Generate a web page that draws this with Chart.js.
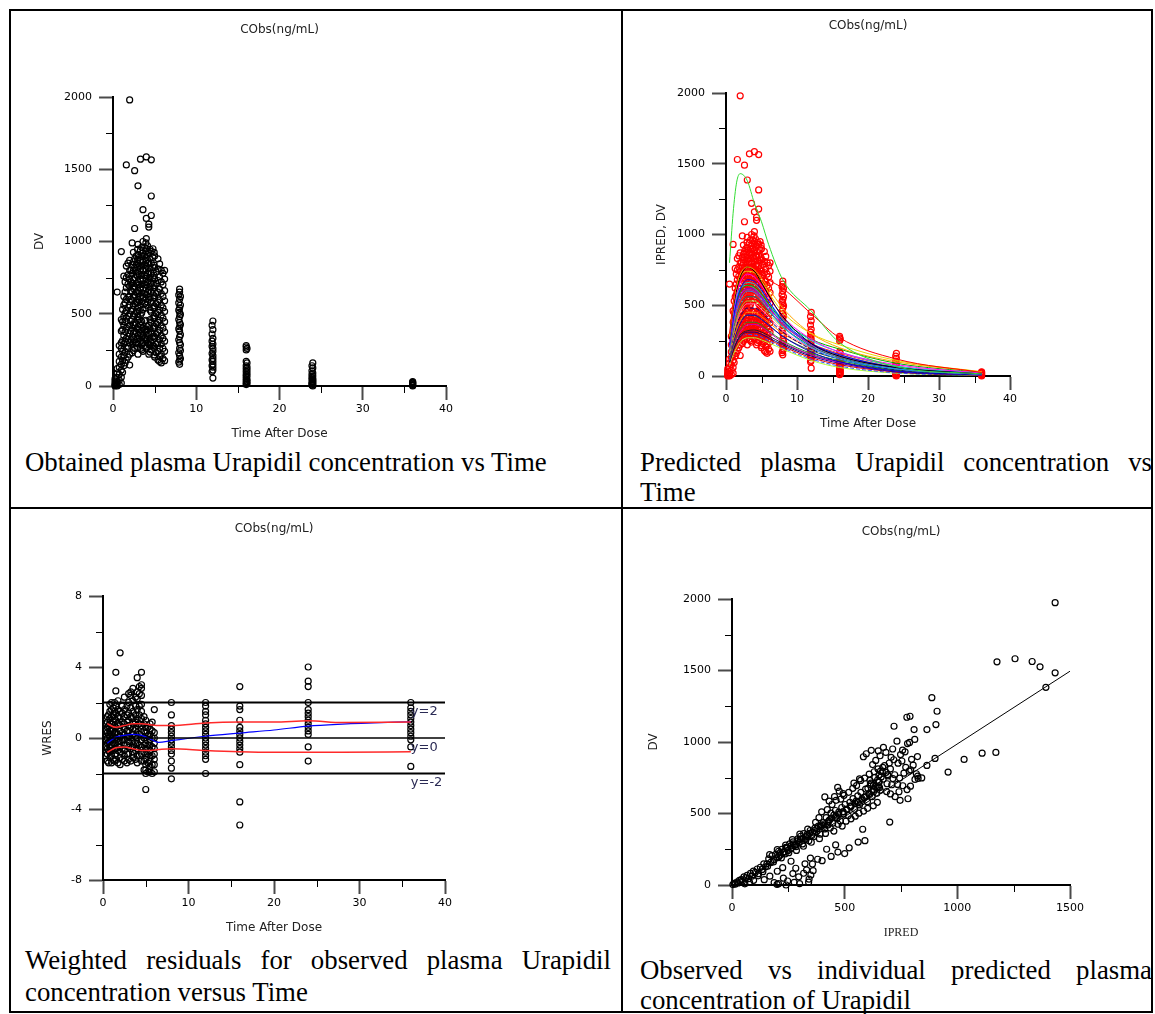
<!DOCTYPE html>
<html>
<head>
<meta charset="utf-8">
<script src="https://cdn.jsdelivr.net/npm/chart.js@4.4.1/dist/chart.umd.min.js"></script>
<style>
  html, body { margin: 0; padding: 0; background: #fff; }
  #page { position: relative; width: 1155px; height: 1014px; overflow: hidden; background: #fff; }
  .rule { position: absolute; background: #000; }
  canvas { position: absolute; }
  .cap { position: absolute; font-family: 'Liberation Serif', 'Times New Roman', serif; font-size: 26.8px; line-height: 31px; color: #000; white-space: nowrap; }
  .cap.just { white-space: normal; text-align: justify; text-align-last: justify; }
</style>
</head>
<body>
<div id="page">
  <div class="rule" style="left:9px;top:9px;width:1144px;height:2px"></div>
  <div class="rule" style="left:9px;top:507px;width:1144px;height:2px"></div>
  <div class="rule" style="left:9px;top:1011px;width:1144px;height:2px"></div>
  <div class="rule" style="left:9px;top:9px;width:2px;height:1004px"></div>
  <div class="rule" style="left:621px;top:9px;width:2px;height:1004px"></div>
  <div class="rule" style="left:1151px;top:9px;width:2px;height:1004px"></div>

  <div class="cap" style="left:25px;top:447px">Obtained plasma Urapidil concentration vs Time</div>
  <div class="cap just" style="left:640px;top:447px;width:512px">Predicted plasma Urapidil concentration vs</div>
  <div class="cap" style="left:640px;top:477px">Time</div>
  <div class="cap just" style="left:25px;top:945px;width:586px">Weighted residuals for observed plasma Urapidil</div>
  <div class="cap" style="left:25px;top:977px">concentration versus Time</div>
  <div class="cap just" style="left:640px;top:955px;width:512px">Observed vs individual predicted plasma</div>
  <div class="cap" style="left:640px;top:985px">concentration of Urapidil</div>
</div>

<script>
'use strict';

// ── Data ──────────────────────────────────────────────────────────────────────

const SANS = "'DejaVu Sans', Verdana, sans-serif";

const timeTicks = [0, 10, 20, 30, 40];
const timeMinor = [5, 15, 25, 35];
const concTicks = [0, 500, 1000, 1500, 2000];
const concMinor = [250, 750, 1250, 1750];
const wresTicks = [-8, -4, 0, 4, 8];
const wresMinor = [-6, -2, 2, 6];
const ipredTicks = [0, 500, 1000, 1500];
const ipredMinor = [250, 750, 1250];

// observed concentrations (DV), grouped by sampling time
const sampleTimes = [0.25, 0.5, 0.75, 1, 1.15, 1.3, 1.45, 1.6, 1.8, 2, 2.15, 2.3, 2.45, 2.6, 2.8, 2.95,
                     3, 3.15, 3.3, 3.45, 3.6, 3.8, 3.95, 4, 4.15, 4.3, 4.45, 4.6, 4.8, 4.95, 5, 5.2,
                     5.4, 5.6, 5.8, 6, 6.2, 7.9, 8, 8.1, 11.9, 12, 16, 16.1, 23.9, 24, 36];
const dvByTime = [
  [0, 5, 10, 20, 35, 50],                                              // 0.25
  [0, 15, 30, 60, 90, 120, 650],                                       // 0.5
  [10, 40, 80, 130, 170, 220, 280],                                    // 0.75
  [20, 60, 110, 150, 200, 260, 300, 380, 460, 930],                    // 1
  [95, 175, 240, 315, 390, 445, 530],                                  // 1.15
  [140, 210, 290, 350, 420, 480, 560, 620, 760],                       // 1.3
  [160, 235, 305, 375, 445, 505, 575, 650, 720],                       // 1.45
  [180, 260, 330, 400, 470, 520, 600, 680, 750, 830, 1530],            // 1.6
  [200, 275, 345, 410, 485, 545, 615, 705, 770, 850],                  // 1.8
  [145, 220, 300, 360, 420, 500, 560, 620, 690, 740, 800, 870, 1980],  // 2
  [320, 380, 450, 520, 600, 660, 720, 800],                            // 2.15
  [230, 290, 340, 400, 460, 530, 590, 650, 710, 780, 840, 990],        // 2.3
  [245, 305, 365, 425, 485, 555, 615, 675, 735, 800, 860, 925],        // 2.45
  [260, 320, 380, 440, 500, 570, 630, 690, 750, 820, 880, 1090, 1490], // 2.6
  [300, 370, 430, 510, 580, 650, 710, 770, 840, 900],                  // 2.8
  [265, 325, 395, 455, 515, 575, 640, 700, 760, 820, 875, 945],        // 2.95
  [220, 290, 350, 410, 480, 540, 600, 660, 720, 790, 850, 910, 980, 1385], // 3
  [330, 390, 460, 520, 590, 640, 700, 770, 830, 890],                  // 3.15
  [260, 310, 360, 420, 490, 560, 620, 680, 740, 810, 870, 940, 1570],  // 3.3
  [250, 285, 335, 385, 445, 505, 585, 645, 705, 765, 830, 895, 960],   // 3.45
  [240, 300, 350, 400, 530, 610, 670, 730, 800, 860, 920, 1000, 1220], // 3.6
  [280, 330, 390, 450, 570, 640, 700, 770, 840, 900, 960],             // 3.8
  [270, 335, 395, 455, 540, 605, 675, 745, 810, 870, 935, 990],        // 3.95
  [260, 320, 380, 560, 630, 700, 760, 830, 890, 950, 1020, 1160, 1585], // 4
  [300, 350, 410, 580, 650, 720, 780, 850, 910, 970],                  // 4.15
  [220, 290, 360, 420, 600, 660, 730, 790, 850, 920, 1100, 1120],      // 4.3
  [235, 280, 330, 395, 460, 525, 615, 685, 745, 815, 880, 945],        // 4.45
  [250, 300, 370, 440, 510, 580, 650, 710, 780, 850, 930, 1180, 1315, 1565], // 4.6
  [280, 340, 400, 470, 540, 610, 680, 750, 820, 890, 950],             // 4.8
  [215, 275, 345, 415, 485, 555, 625, 695, 765, 835, 925],             // 4.95
  [200, 260, 330, 400, 470, 540, 610, 680, 740, 820, 900],             // 5
  [230, 290, 360, 430, 500, 570, 640, 710, 790],                       // 5.2
  [180, 240, 300, 370, 440, 510, 580, 650, 730, 810, 880],             // 5.4
  [170, 205, 260, 320, 385, 455, 525, 595, 670, 755, 845],             // 5.6
  [160, 220, 290, 350, 420, 490, 560, 640, 720, 800],                  // 5.8
  [190, 260, 330, 400, 470, 540, 620, 700, 780],                       // 6
  [175, 240, 310, 375, 445, 515, 590, 660, 740, 800],                  // 6.2
  [165, 230, 320, 395, 460, 525, 575, 630],                            // 7.9
  [150, 180, 210, 260, 300, 340, 380, 410, 440, 480, 510, 540, 600, 650, 670], // 8
  [190, 245, 285, 355, 425, 495, 560, 620],                            // 8.1
  [100, 140, 180, 225, 275, 310, 360, 420],                            // 11.9
  [55, 110, 130, 150, 170, 190, 210, 240, 260, 290, 330, 390, 450],    // 12
  [10, 20, 35, 50, 65, 80, 100, 120, 140, 170, 250, 270, 280],         // 16
  [15, 30, 45, 70, 90, 110, 130, 160, 260],                            // 16.1
  [5, 15, 25, 45, 60, 80, 105, 140],                                   // 23.9
  [0, 10, 20, 30, 40, 50, 70, 90, 125, 160],                           // 24
  [0, 5, 10, 15, 20, 25, 30]                                           // 36
];

// individual predicted profiles (IPRED)
const predTimes = [0.5, 1, 1.5, 2, 3, 4, 5, 6, 8, 12, 16, 24, 36];
const predCurves = [
  [800, 1150, 1370, 1430, 1380, 1220, 1090, 930, 680, 460, 235, 65, 15],
  [300, 520, 660, 740, 790, 770, 720, 680, 620, 440, 270, 120, 25],
  [280, 500, 640, 720, 770, 750, 690, 620, 480, 300, 200, 100, 30],
  [260, 470, 610, 700, 770, 740, 660, 570, 420, 230, 140, 60, 15],
  [270, 480, 620, 700, 740, 730, 670, 590, 450, 300, 220, 110, 30],
  [240, 440, 580, 660, 720, 700, 640, 560, 420, 260, 170, 80, 20],
  [220, 400, 530, 610, 680, 670, 610, 530, 390, 230, 150, 60, 15],
  [250, 430, 550, 620, 660, 650, 600, 530, 400, 250, 170, 70, 20],
  [230, 410, 520, 590, 640, 630, 580, 510, 390, 260, 190, 90, 25],
  [210, 380, 500, 570, 620, 610, 560, 490, 370, 220, 140, 60, 15],
  [200, 360, 470, 540, 600, 590, 540, 470, 350, 200, 120, 50, 12],
  [190, 340, 450, 520, 580, 575, 530, 470, 360, 230, 160, 70, 20],
  [180, 320, 430, 500, 560, 560, 520, 460, 350, 210, 130, 50, 12],
  [170, 300, 400, 470, 530, 530, 490, 440, 340, 220, 150, 60, 15],
  [160, 290, 380, 450, 510, 510, 470, 420, 320, 200, 130, 50, 12],
  [150, 270, 360, 420, 480, 480, 450, 400, 310, 190, 120, 45, 10],
  [140, 250, 330, 390, 450, 450, 420, 380, 300, 200, 140, 60, 15],
  [130, 230, 310, 370, 430, 430, 400, 360, 280, 170, 100, 35, 8],
  [120, 210, 280, 330, 380, 380, 360, 320, 250, 160, 110, 40, 10],
  [110, 200, 260, 310, 360, 365, 345, 310, 240, 150, 95, 35, 8],
  [100, 180, 240, 290, 320, 325, 310, 285, 230, 150, 100, 40, 10],
  [100, 180, 240, 280, 310, 310, 295, 270, 220, 140, 90, 30, 8],
  [90, 170, 230, 270, 300, 300, 285, 260, 210, 130, 80, 28, 6],
  [95, 175, 230, 270, 295, 290, 275, 250, 200, 120, 70, 22, 5],
  [80, 150, 200, 240, 270, 270, 255, 235, 190, 110, 60, 20, 5],
  [260, 450, 560, 620, 640, 620, 570, 500, 380, 220, 140, 55, 12],
  [150, 260, 340, 390, 430, 425, 400, 360, 280, 180, 120, 45, 10],
  [220, 390, 500, 570, 610, 600, 550, 490, 370, 230, 150, 60, 15]
];
const predColors = [
  '#33dd33', '#ff0000', '#ffa500', '#000000', '#e6d800', '#ff00ff', '#0000ff', '#00e0e0',
  '#00b000', '#8000ff', '#1e90ff', '#ff3030', '#008080', '#9acd32', '#ff69b4', '#000080',
  '#ff8c00', '#0000cd', '#228b22', '#c000c0', '#202020', '#00008b', '#dd0000', '#3050ff',
  '#adff2f', '#00ced1', '#556b2f', '#9932cc'
];
const predDashed = [15, 23];

// weighted residuals, grouped by sampling time
const wresTimes = [0.3, 0.5, 0.65, 0.8, 1, 1.2, 1.35, 1.5, 1.75, 2, 2.25, 2.5, 2.8, 3, 3.25, 3.5, 3.8,
                   4, 4.25, 4.5, 4.8, 5, 5.25, 5.5, 5.75, 6, 8, 12, 16, 24, 36];
const wresByTime = [
  [-1.0, -0.5, -0.1, 0.4, 0.8],                                        // 0.3
  [-1.3, -0.9, -0.6, -0.3, 0, 0.3, 0.6, 0.9, 1.2],                     // 0.5
  [-1.4, -0.7, -0.2, 0.2, 0.7, 1.3],                                   // 0.65
  [-1.1, -0.8, -0.5, -0.2, 0.1, 0.4, 0.8, 1.1, 1.5, 1.9],              // 0.8
  [-1.4, -1.0, -0.7, -0.4, -0.1, 0.2, 0.5, 0.8, 1.2, 1.6, 2.0],        // 1
  [-1.2, -0.7, -0.3, 0.1, 0.5, 0.9, 1.3, 1.7],                         // 1.2
  [-1.3, -0.6, -0.1, 0.3, 0.7, 1.1, 1.5, 2.0],                         // 1.35
  [-1.2, -0.9, -0.6, -0.3, 0.0, 0.3, 0.6, 1.0, 1.4, 1.8, 2.65, 3.7],   // 1.5
  [-1.4, -0.7, -0.2, 0.2, 0.8, 1.2, 1.6, 2.1],                         // 1.75
  [-1.5, -1.1, -0.8, -0.5, -0.2, 0.1, 0.4, 0.7, 1.1, 1.5, 4.8],        // 2
  [-1.2, -0.6, -0.1, 0.3, 0.9, 1.4, 1.8],                              // 2.25
  [-1.3, -1.0, -0.7, -0.4, -0.1, 0.2, 0.5, 0.8, 1.2, 1.6, 2.3],        // 2.5
  [-1.4, -0.9, -0.4, 0, 0.4, 0.9, 1.3, 1.8],                           // 2.8
  [-1.2, -0.9, -0.5, -0.2, 0.1, 0.4, 0.7, 1.0, 1.4, 2.0, 2.5],         // 3
  [-1.3, -0.6, 0, 0.6, 1.2, 1.7, 2.4, 2.6],                            // 3.25
  [-1.1, -0.8, -0.5, -0.2, 0.2, 0.5, 0.8, 1.1, 1.5, 2.1, 2.8],         // 3.5
  [-1.2, -0.7, -0.3, 0.1, 0.5, 0.9, 1.3, 1.8, 2.3],                    // 3.8
  [-1.4, -1.0, -0.6, -0.3, 0.0, 0.3, 0.7, 1.1, 1.6, 2.2, 2.6, 3.4],    // 4
  [-1.0, -0.4, 0.2, 0.8, 1.3, 1.8, 2.5, 2.9],                          // 4.25
  [-1.3, -0.9, -0.5, -0.1, 0.3, 0.7, 1.1, 1.5, 1.9, 2.4, 2.8, 3.0, 3.7], // 4.5
  [-1.8, -1.3, -0.8, -0.4, 0, 0.4, 0.8, 1.2],                          // 4.8
  [-2.9, -2.0, -1.8, -1.5, -1.2, -0.9, -0.6, -0.3, 0, 0.3, 0.6, 1.0],  // 5
  [-1.9, -1.4, -0.9, -0.4, 0.1, 0.6],                                  // 5.25
  [-1.9, -1.6, -1.3, -1.0, -0.7, -0.4, -0.1, 0.2, 0.5, 0.8],           // 5.5
  [-2.0, -1.5, -1.0, -0.5, 0.0, 0.4, 0.9],                             // 5.75
  [-1.9, -1.5, -1.2, -0.9, -0.6, -0.3, 0.0, 0.3, 1.6],                 // 6
  [-2.3, -1.7, -1.3, -0.9, -0.7, -0.5, -0.3, -0.1, 0.1, 0.3, 0.5, 0.7, 1.3, 2.0], // 8
  [-2.0, -1.2, -1.0, -0.8, -0.6, -0.4, -0.2, 0, 0.2, 0.4, 0.6, 0.8, 1.0, 1.3, 1.5, 1.8, 2.0], // 12
  [-4.9, -3.6, -1.5, -0.8, -0.6, -0.4, -0.2, 0, 0.2, 0.4, 0.6, 1.0, 1.6, 1.8, 2.9], // 16
  [-1.3, -0.5, 0.2, 0.4, 0.6, 0.8, 1.0, 1.2, 1.4, 1.6, 2.0, 2.9, 3.2, 4.0], // 24
  [-1.6, -0.5, -0.1, 0.1, 0.3, 0.5, 0.7, 0.9, 1.1, 1.3, 1.5, 1.7, 2.0] // 36
];

// smoothed trend and spread of the residuals
const bandTimes = [0.5, 1.5, 2.5, 3.5, 4.5, 5.5, 6.5, 8, 12, 16, 20, 24, 28, 36];
const bandUpper = [0.8, 0.6, 0.7, 0.8, 0.8, 0.75, 0.7, 0.7, 0.85, 0.9, 0.9, 0.97, 0.87, 0.9];
const bandLower = [-0.8, -0.55, -0.5, -0.6, -0.7, -0.7, -0.65, -0.6, -0.7, -0.77, -0.8, -0.8, -0.8, -0.77];
const bandMean = [-0.3, 0.05, 0.15, 0.2, 0.15, -0.05, -0.25, -0.15, 0.1, 0.28, 0.45, 0.67, 0.78, 0.92];
const refLevels = [2, 0, -2];
const refLabels = ['y=2', 'y=0', 'y=-2'];

// observed vs individual predicted
const ipredVals = [
  4, 9, 14, 22, 27, 33, 41, 46, 53, 61, 67, 74, 82, 88, 95, 103, 112, 118, 126, 134,
  141, 149, 57, 78, 96, 143, 168, 187, 206, 228, 247, 276, 296, 318, 331, 342, 324, 283, 262, 348,
  357, 38, 116, 158, 137, 201, 225,
  155, 163, 172, 178, 186, 194, 199, 207, 213, 221, 228, 236, 243, 249, 256, 262, 271, 277, 284, 292,
  298, 305, 313, 318, 326, 333, 341, 347, 354, 362, 368, 375, 383, 391, 398,
  167, 184, 201, 219, 238, 252, 268, 286, 301, 317, 336, 352, 371, 388,
  214, 232, 246, 263, 281, 294, 309, 327, 344, 358, 377, 394, 408, 427, 441, 458, 473, 492, 511, 527,
  546, 561, 577, 594, 611, 628, 644, 207, 239, 272, 303, 334, 366, 397, 429, 462, 493, 525, 556, 588,
  619, 650,
  404, 411, 418, 426, 433, 439, 447, 452, 459, 466, 474, 481, 487, 495, 502, 508, 516, 523, 529, 537,
  544, 551, 558, 566, 572, 579, 586, 593, 601, 608, 614, 622, 629, 636, 643, 651, 658,
  415, 436, 452, 471, 489, 506, 528, 547, 563, 584, 602, 627, 645,
  423, 444, 462, 469, 483, 497, 518, 536, 553, 571, 589, 609, 631, 648, 412, 431, 398, 455, 386, 476,
  493, 541, 566,
  603, 617, 628, 646, 653, 662, 671, 684, 692, 703, 659, 677, 698, 624, 638, 657, 683, 649, 706, 718,
  737, 754, 771, 793, 722, 744, 763, 786, 804, 758, 741, 777, 792, 812, 824, 781, 703, 724, 686, 709,
  583, 596, 618, 672, 652, 713, 732, 757, 779, 788, 811, 748, 768, 797, 823, 818, 842, 612, 634, 667,
  691, 714, 735, 669, 655, 688,
  580, 560, 590, 520, 500, 470, 460, 440, 420, 400, 380, 360, 350, 340, 300, 200, 240, 270, 700, 746,
  719, 776, 790, 808, 865, 905, 910, 887, 826, 865, 901,
  959, 1030, 1110, 1171, 1176, 1256, 1332, 1367, 1434, 1393, 1434
];
const dvVals = [
  3, 12, 6, 21, 14, 33, 38, 26, 57, 49, 68, 44, 81, 62, 97, 88, 112, 79, 124, 109,
  148, 127, 8, 19, 33, 37, 62, 17, 9, 48, 28, 19, 57, 82, 106, 41, 148, 117, 166, 188,
  147, 22, 64, 131, 93, 96, 121,
  148, 182, 158, 205, 176, 214, 190, 236, 208, 249, 231, 218, 262, 241, 287, 255, 301, 276, 268, 322,
  296, 341, 287, 359, 318, 352, 309, 381, 346, 337, 398, 372, 412, 356, 421,
  212, 161, 247, 189, 279, 226, 318, 242, 356, 271, 391, 299, 438, 324,
  226, 231, 259, 274, 283, 311, 322, 336, 361, 369, 394, 407, 421, 442, 468, 471, 495, 512, 526, 548,
  571, 576, 603, 618, 633, 652, 684, 196, 263, 287, 319, 342, 381, 411, 447, 482, 511, 552, 579, 612,
  654, 687,
  436, 392, 471, 419, 455, 503, 432, 488, 521, 467, 509, 448, 542, 497, 563, 531, 486, 578, 552, 604,
  529, 587, 623, 561, 648, 594, 612, 671, 583, 639, 702, 618, 667, 689, 641, 724, 662,
  361, 398, 377, 425, 412, 446, 463, 481, 502, 517, 536, 554, 578,
  527, 563, 592, 682, 601, 627, 648, 676, 695, 731, 748, 776, 792, 812, 616, 587, 512, 618, 471, 656,
  639, 713, 742,
  676, 712, 698, 734, 719, 756, 741, 788, 763, 812, 796, 835, 853, 842, 871, 904, 927, 938, 893, 876,
  852, 867, 823, 806, 771, 748, 782, 796, 838, 694, 652, 667, 691, 738, 762, 603, 637, 618, 653, 701,
  897, 918, 942, 962, 768, 951, 1006, 943, 989, 997, 1018, 912, 931, 879, 898, 778, 749, 731, 752, 791,
  772, 744, 703, 823, 681, 708,
  390, 300, 310, 260, 220, 230, 280, 200, 250, 170, 180, 100, 70, 20, 10, 5, 0, 80, 440, 592,
  1110, 1173, 1180, 1087, 1087, 1122, 1215, 1310, 745, 836, 885,
  790, 878, 922, 927, 1561, 1582, 1563, 1526, 1484, 1382, 1974
];
const fitLineX = [30, 1500];
const fitLineY = [0, 1495];

// ── Panel geometry (page pixels) ──────────────────────────────────────────────

const GEOM = {
  obs:  { canvas: [11, 11, 611, 440],  area: [113, 446, 97, 386],  titleY: 30,  xTitleY: 434, yTitleX: 40 },
  pred: { canvas: [624, 11, 528, 440], area: [726, 1010, 93, 376], titleY: 26,  xTitleY: 424, yTitleX: 662 },
  wres: { canvas: [11, 510, 611, 440], area: [103, 445, 596, 880], titleY: 529, xTitleY: 928, yTitleX: 48 },
  fit:  { canvas: [624, 510, 528, 445], area: [732, 1070, 599, 885], titleY: 532, xTitleY: 933, yTitleX: 654 }
};

function frame(g) {
  const [cx, cy, w, h] = g.canvas;
  const [L, R, T, B] = g.area;
  const titleTop = (g.titleY - cy) - 7.2;
  return {
    padRight: w - (R - cx),
    yWidth: L - cx,
    xHeight: h - (B - cy),
    titleTop,
    titleBottom: (T - cy) - 14.4 - titleTop,
    xTitlePad: h - (g.xTitleY - cy) - 7.2,
    yTitlePad: (g.yTitleX - cx) - 7.2
  };
}

// ── Helpers ───────────────────────────────────────────────────────────────────

function columnsToPoints(times, cols) {
  const pts = [];
  times.forEach((t, i) => cols[i].forEach(v => pts.push({ x: t, y: v })));
  return pts;
}

function pairsToPoints(xs, ys) {
  return xs.map((x, i) => ({ x, y: ys[i] }));
}

function circles(data, color) {
  return {
    data, order: 2, clip: false,
    pointRadius: 3, borderWidth: 1.2,
    borderColor: color, backgroundColor: 'rgba(0,0,0,0)'
  };
}

function line(data, color, width, dash) {
  return {
    data, order: 1, clip: false, showLine: true,
    pointRadius: 0, borderWidth: width, borderColor: color,
    borderDash: dash || [], cubicInterpolationMode: 'monotone'
  };
}

function linearAxis(o) {
  const horizontal = o.horizontal;
  return {
    type: 'linear',
    position: horizontal ? 'bottom' : 'left',
    min: o.min,
    max: o.max,
    afterBuildTicks: s => { s.ticks = o.ticks.map(v => ({ value: v })); },
    afterFit: s => {
      if (horizontal) { s.height = o.size; s.paddingLeft = 0; s.paddingRight = 0; }
      else { s.width = o.size; s.paddingTop = 0; s.paddingBottom = 0; }
    },
    border: { display: true, color: '#000', width: 2 },
    grid: { drawOnChartArea: false, drawTicks: true, tickLength: 14, tickColor: '#4a4a4a', tickWidth: 2 },
    ticks: {
      color: '#000', padding: horizontal ? 3 : 7, autoSkip: false, maxRotation: 0,
      font: { family: SANS, size: 11 }, callback: v => String(v)
    },
    title: {
      display: true, text: o.title, color: '#222',
      font: { family: o.titleFamily || SANS, size: 12 },
      padding: horizontal ? { top: 0, bottom: o.titlePad } : { top: o.titlePad, bottom: 0 }
    }
  };
}

// short unlabelled ticks between the labelled ones
const minorTickPlugin = {
  id: 'minorTicks',
  afterDraw(chart, args, opts) {
    const { ctx, chartArea } = chart;
    ctx.save();
    ctx.strokeStyle = '#000';
    ctx.lineWidth = 1;
    ctx.beginPath();
    (opts.x || []).forEach(v => {
      const px = Math.round(chart.scales.x.getPixelForValue(v)) + 0.5;
      ctx.moveTo(px, chartArea.bottom);
      ctx.lineTo(px, chartArea.bottom + 7);
    });
    (opts.y || []).forEach(v => {
      const py = Math.round(chart.scales.y.getPixelForValue(v)) + 0.5;
      ctx.moveTo(chartArea.left, py);
      ctx.lineTo(chartArea.left - 7, py);
    });
    ctx.stroke();
    ctx.restore();
  }
};

// "y=2" style labels beside the reference lines
const refLabelPlugin = {
  id: 'refLabels',
  afterDatasetsDraw(chart, args, opts) {
    if (!opts.levels) return;
    const { ctx } = chart;
    ctx.save();
    ctx.fillStyle = '#2b2b55';
    ctx.font = '13px ' + SANS;
    ctx.textBaseline = 'top';
    ctx.textAlign = 'left';
    opts.levels.forEach((lv, i) => {
      ctx.fillText(opts.labels[i], chart.scales.x.getPixelForValue(opts.at), chart.scales.y.getPixelForValue(lv) + 3);
    });
    ctx.restore();
  }
};

function placeCanvas(g) {
  const c = document.createElement('canvas');
  const [x, y, w, h] = g.canvas;
  c.width = w;
  c.height = h;
  c.style.left = x + 'px';
  c.style.top = y + 'px';
  c.style.width = w + 'px';
  c.style.height = h + 'px';
  document.getElementById('page').appendChild(c);
  return c;
}

function buildChart(g, datasets, xAxis, yAxis, extraPluginOpts) {
  const f = frame(g);
  return new Chart(placeCanvas(g), {
    type: 'scatter',
    data: { datasets },
    options: {
      responsive: false,
      animation: false,
      devicePixelRatio: 1,
      events: [],
      layout: { padding: { left: 0, right: f.padRight, top: 0, bottom: 0 } },
      scales: {
        x: linearAxis(Object.assign({}, xAxis, { horizontal: true, size: f.xHeight, titlePad: f.xTitlePad })),
        y: linearAxis(Object.assign({}, yAxis, { horizontal: false, size: f.yWidth, titlePad: f.yTitlePad }))
      },
      plugins: Object.assign({
        legend: { display: false },
        tooltip: { enabled: false },
        title: {
          display: true, text: 'CObs(ng/mL)', fullSize: false, color: '#222',
          font: { family: SANS, size: 12, weight: 'normal' },
          padding: { top: f.titleTop, bottom: f.titleBottom }
        }
      }, extraPluginOpts)
    },
    plugins: [minorTickPlugin, refLabelPlugin]
  });
}

// ── Charts ────────────────────────────────────────────────────────────────────

const obsPoints = columnsToPoints(sampleTimes, dvByTime);
const timeAxis = { min: 0, max: 40, ticks: timeTicks, title: 'Time After Dose' };

buildChart(GEOM.obs,
  [circles(obsPoints, '#000')],
  timeAxis,
  { min: 0, max: 2000, ticks: concTicks, title: 'DV' },
  { minorTicks: { x: timeMinor, y: concMinor } });

buildChart(GEOM.pred,
  [circles(obsPoints, '#ff0000')].concat(predCurves.map((vals, i) =>
    line(pairsToPoints(predTimes, vals), predColors[i], 1, predDashed.includes(i) ? [4, 2] : null))),
  timeAxis,
  { min: 0, max: 2000, ticks: concTicks, title: 'IPRED, DV' },
  { minorTicks: { x: timeMinor, y: concMinor } });

buildChart(GEOM.wres,
  [circles(columnsToPoints(wresTimes, wresByTime), '#000')]
    .concat(refLevels.map(lv => line(pairsToPoints([0, 40], [lv, lv]), '#000', lv === 0 ? 1.5 : 2)))
    .concat([
      line(pairsToPoints(bandTimes, bandUpper), '#ff2a2a', 1.5),
      line(pairsToPoints(bandTimes, bandLower), '#ff2a2a', 1.5),
      line(pairsToPoints(bandTimes, bandMean), '#0000ff', 1.2)
    ]),
  timeAxis,
  { min: -8, max: 8, ticks: wresTicks, title: 'WRES' },
  { minorTicks: { x: timeMinor, y: wresMinor }, refLabels: { levels: refLevels, labels: refLabels, at: 36 } });

buildChart(GEOM.fit,
  [circles(pairsToPoints(ipredVals, dvVals), '#000'),
   line(pairsToPoints(fitLineX, fitLineY), '#000', 1)],
  { min: 0, max: 1500, ticks: ipredTicks, title: 'IPRED', titleFamily: "'Liberation Serif', serif" },
  { min: 0, max: 2000, ticks: concTicks, title: 'DV' },
  { minorTicks: { x: ipredMinor, y: concMinor } });
</script>
</body>
</html>
